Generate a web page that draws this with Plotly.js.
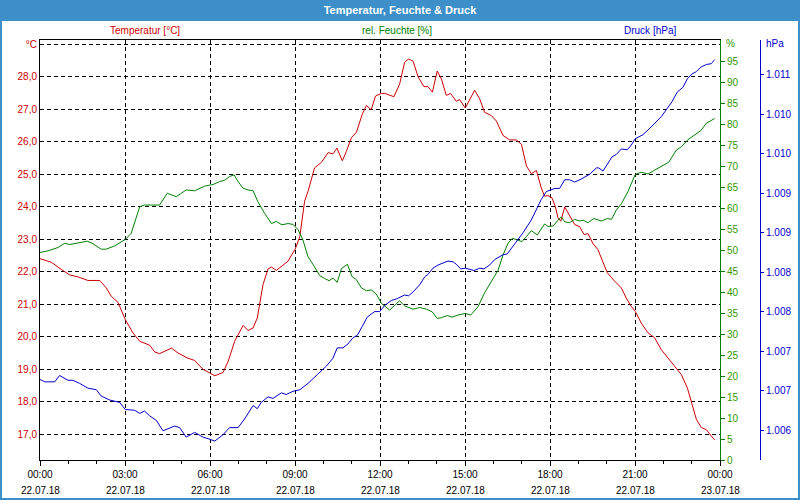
<!DOCTYPE html>
<html>
<head>
<meta charset="utf-8">
<script src="https://cdn.plot.ly/plotly-3.0.1.min.js"></script>
<style>
html,body{margin:0;padding:0;background:#fff;}
#chart{width:800px;height:500px;}
</style>
</head>
<body>
<div id="chart"></div>
<script>
// ---- data (hours since 22.07.18 00:00) ----
const tempHours = [0,0.4,0.75,1.05,1.34,1.69,2.11,2.34,2.52,2.75,3.01,3.28,3.52,3.87,4.05,4.22,4.64,4.87,5.22,5.46,5.75,6.05,6.17,6.46,6.64,6.87,7.05,7.17,7.34,7.52,7.67,7.75,7.87,8.05,8.17,8.34,8.58,8.75,9.01,9.17,9.34,9.46,9.69,9.93,10.17,10.34,10.48,10.67,10.81,10.99,11.17,11.37,11.52,11.69,11.84,12.05,12.17,12.49,12.69,12.87,13.01,13.17,13.34,13.55,13.69,13.85,14.02,14.17,14.34,14.49,14.69,14.81,15.01,15.17,15.34,15.52,15.69,15.93,16.11,16.34,16.58,16.81,16.99,17.17,17.34,17.52,17.69,17.81,17.93,18.07,18.19,18.28,18.38,18.52,18.69,18.87,19.05,19.2,19.34,19.52,19.69,19.87,20.02,20.28,20.52,20.69,20.87,21.01,21.22,21.46,21.69,21.93,22.17,22.4,22.64,22.85,23.01,23.17,23.34,23.52,23.69,23.81];
const tempValues = [22.40,22.29,22.07,21.90,21.84,21.73,21.73,21.50,21.24,21.06,20.53,20.12,19.86,19.74,19.53,19.48,19.65,19.50,19.34,19.27,19.00,18.85,18.80,18.90,19.24,19.86,20.17,20.35,20.19,20.27,20.58,21.03,21.60,22.09,22.14,22.04,22.22,22.32,22.70,23.08,24.17,24.47,25.19,25.36,25.66,25.62,25.80,25.41,25.69,26.12,26.29,26.83,27.11,26.98,27.40,27.48,27.48,27.38,27.76,28.44,28.54,28.47,28.00,27.69,27.69,27.52,28.17,27.92,27.42,27.48,27.24,27.29,27.03,27.29,27.58,27.31,26.90,26.80,26.63,26.19,26.05,26.05,25.92,25.25,25.01,25.11,24.58,24.32,24.34,24.27,24.00,23.66,23.55,23.99,23.71,23.45,23.38,23.14,23.17,22.86,22.68,22.32,21.97,21.71,21.50,21.19,20.93,20.78,20.42,20.12,19.97,19.60,19.34,19.08,18.83,18.42,17.97,17.45,17.21,17.14,16.95,16.83];

const humHours = [0,0.28,0.64,0.87,1.05,1.34,1.67,1.87,2.16,2.34,2.64,3.01,3.22,3.52,3.69,3.93,4.22,4.49,4.81,5.16,5.46,5.81,6.11,6.34,6.52,6.69,6.85,6.99,7.17,7.34,7.52,7.69,7.93,8.17,8.34,8.54,8.75,8.93,9.11,9.28,9.46,9.69,9.87,10.05,10.2,10.34,10.49,10.64,10.85,11.01,11.17,11.34,11.52,11.69,11.87,12.05,12.34,12.69,12.87,13.17,13.40,13.64,13.84,14.02,14.17,14.38,14.54,14.75,15.01,15.2,15.46,15.69,15.93,16.17,16.34,16.52,16.67,16.85,17.01,17.17,17.34,17.55,17.81,17.93,18.11,18.28,18.40,18.52,18.69,18.87,19.05,19.17,19.34,19.55,19.81,20.02,20.17,20.34,20.52,20.75,21.01,21.22,21.46,21.69,21.99,22.19,22.46,22.64,22.87,23.11,23.32,23.52,23.69,23.81];
const humValues = [49.4,49.8,50.6,51.6,51.3,51.6,52.1,51.5,50.2,50.2,51.0,52.5,54.0,60.3,60.7,60.7,60.7,63.5,62.7,64.3,64.1,65.2,65.6,66.3,66.6,67.5,67.9,66.3,64.7,64.3,64.1,61.5,58.7,56.3,56.8,56.0,56.3,56.1,54.8,52.4,48.4,46.0,43.9,43.2,42.7,43.3,42.3,45.6,46.6,43.7,42.9,41.0,40.3,40.5,39.5,37.3,35.7,37.9,36.7,35.9,36.3,35.9,35.3,33.7,33.9,34.4,34.0,34.5,34.9,34.5,36.5,39.8,42.5,45.2,48.8,51.6,52.8,52.4,52.0,53.2,54.6,53.6,56.2,55.6,55.7,57.1,57.9,56.7,56.5,57.3,56.9,57.1,56.5,57.5,56.9,57.5,57.3,59.5,61.0,63.9,68.0,68.5,68.1,69.0,70.2,70.9,73.8,74.6,76.3,77.4,78.4,80.2,80.8,81.3];

const presHours = [0,0.17,0.52,0.69,0.99,1.16,1.40,1.69,1.99,2.16,2.46,2.81,3.01,3.34,3.52,3.69,3.87,4.11,4.34,4.75,4.93,5.16,5.46,5.75,5.93,6.17,6.46,6.69,6.99,7.22,7.52,7.67,7.81,8.05,8.22,8.52,8.69,8.93,9.17,9.46,9.81,10.11,10.34,10.49,10.69,10.87,11.05,11.2,11.37,11.55,11.81,11.99,12.17,12.40,12.58,12.87,13.01,13.17,13.40,13.58,13.69,13.87,14.05,14.22,14.40,14.58,14.69,14.85,15.01,15.32,15.52,15.67,15.87,16.05,16.34,16.49,16.64,16.87,17.05,17.34,17.52,17.69,17.87,18.17,18.34,18.52,18.69,18.87,19.11,19.40,19.64,19.72,19.87,20.02,20.19,20.34,20.52,20.73,20.87,21.01,21.28,21.46,21.69,21.93,22.11,22.31,22.49,22.69,22.85,23.01,23.17,23.34,23.52,23.69,23.81];
const presValues = [1006.89,1006.86,1006.86,1006.94,1006.88,1006.88,1006.84,1006.78,1006.76,1006.68,1006.63,1006.60,1006.51,1006.50,1006.46,1006.49,1006.43,1006.37,1006.24,1006.30,1006.28,1006.16,1006.22,1006.16,1006.14,1006.11,1006.19,1006.28,1006.28,1006.39,1006.56,1006.52,1006.60,1006.67,1006.65,1006.72,1006.70,1006.74,1006.76,1006.84,1006.96,1007.06,1007.16,1007.29,1007.29,1007.34,1007.42,1007.45,1007.56,1007.68,1007.75,1007.75,1007.83,1007.89,1007.91,1007.96,1007.95,1008.00,1008.09,1008.19,1008.22,1008.30,1008.34,1008.36,1008.39,1008.38,1008.35,1008.29,1008.30,1008.27,1008.30,1008.29,1008.34,1008.41,1008.47,1008.48,1008.55,1008.66,1008.75,1008.91,1009.04,1009.17,1009.27,1009.31,1009.31,1009.42,1009.42,1009.39,1009.43,1009.49,1009.57,1009.57,1009.53,1009.61,1009.71,1009.74,1009.81,1009.80,1009.86,1009.94,1009.99,1010.05,1010.14,1010.22,1010.31,1010.41,1010.53,1010.59,1010.70,1010.76,1010.79,1010.85,1010.88,1010.89,1010.94];

// ---- ticks / labels ----
const timeTickVals = [0,3,6,9,12,15,18,21,24];
const timeTickText = ['00:00','03:00','06:00','09:00','12:00','15:00','18:00','21:00','00:00'];
const dateTickText = ['22.07.18','22.07.18','22.07.18','22.07.18','22.07.18','22.07.18','22.07.18','22.07.18','23.07.18'];
const tempTickVals = [17,18,19,20,21,22,23,24,25,26,27,28,29];
const tempTickText = ['17,0','18,0','19,0','20,0','21,0','22,0','23,0','24,0','25,0','26,0','27,0','28,0','°C'];
const humTickVals = [0,5,10,15,20,25,30,35,40,45,50,55,60,65,70,75,80,85,90,95];
const presTickVals = [1010.75,1010.25,1009.75,1009.25,1008.75,1008.25,1007.75,1007.25,1006.75,1006.25];
const presTickText = ['1.011','1.010','1.010','1.009','1.009','1.008','1.008','1.007','1.007','1.006'];
const seriesNames = ['Temperatur [°C]','rel. Feuchte [%]','Druck [hPa]'];

const W = 800, H = 500, ML = 40, MR = 40, MT = 40, MB = 40;
const PW = W - ML - MR, PH = H - MT - MB;
const px = x => (x - ML) / PW;          // pixel -> paper x
const py = y => (H - MB - y) / PH;      // pixel -> paper y

const FONT = 'Liberation Sans, Arial, sans-serif';
const RED = '#cc0000', GREEN = '#008000', GREENTXT = '#339900', BLUE = '#0000cc', BAR = '#3c8fc8';

const traces = [
  {x: tempHours, y: tempValues, type: 'scatter', mode: 'lines', line: {color: RED, width: 1}, yaxis: 'y', name: seriesNames[0]},
  {x: humHours, y: humValues, type: 'scatter', mode: 'lines', line: {color: GREEN, width: 1}, yaxis: 'y2', name: seriesNames[1]},
  {x: presHours, y: presValues, type: 'scatter', mode: 'lines', line: {color: BLUE, width: 1}, yaxis: 'y3', name: seriesNames[2]}
];

const annotations = [];
timeTickVals.forEach((v, i) => {
  annotations.push({x: v, xref: 'x', y: py(490), yref: 'paper', text: dateTickText[i], showarrow: false,
    xanchor: 'center', yanchor: 'middle', font: {family: FONT, size: 10, color: '#000000'}});
});
annotations.push({x: px(145), xref: 'paper', y: py(30), yref: 'paper', text: seriesNames[0], showarrow: false, xanchor: 'center', yanchor: 'middle', font: {family: FONT, size: 10, color: RED}});
annotations.push({x: px(397), xref: 'paper', y: py(30), yref: 'paper', text: seriesNames[1], showarrow: false, xanchor: 'center', yanchor: 'middle', font: {family: FONT, size: 10, color: GREEN}});
annotations.push({x: px(650), xref: 'paper', y: py(30), yref: 'paper', text: seriesNames[2], showarrow: false, xanchor: 'center', yanchor: 'middle', font: {family: FONT, size: 10, color: BLUE}});
annotations.push({x: px(724), xref: 'paper', y: py(44), yref: 'paper', text: '%', showarrow: false, xanchor: 'left', yanchor: 'middle', font: {family: FONT, size: 10, color: GREENTXT}});
annotations.push({x: px(764), xref: 'paper', y: py(44), yref: 'paper', text: 'hPa', showarrow: false, xanchor: 'left', yanchor: 'middle', font: {family: FONT, size: 10, color: BLUE}});

const layout = {
  width: W, height: H,
  margin: {l: ML, r: MR, t: MT, b: MB, pad: 0},
  paper_bgcolor: '#ffffff', plot_bgcolor: '#ffffff',
  showlegend: false,
  title: {text: '<b>Temperatur, Feuchte & Druck</b>', font: {family: FONT, size: 11, color: '#ffffff'},
    x: 0.5, xref: 'container', xanchor: 'center', y: 1 - 10/H, yref: 'container', yanchor: 'middle'},
  xaxis: {
    domain: [0, (720 - ML) / PW], range: [0, 24],
    tickmode: 'array', tickvals: timeTickVals, ticktext: timeTickText,
    ticks: 'outside', ticklen: 5, tickcolor: '#000', tickwidth: 1,
    minor: {dtick: 1, tick0: 0, ticks: 'outside', ticklen: 3, tickcolor: '#000', showgrid: false},
    showgrid: true, gridcolor: '#000', gridwidth: 1, griddash: '4px,3px',
    showline: true, linecolor: '#000', linewidth: 1, mirror: true,
    zeroline: false, fixedrange: true,
    tickfont: {family: FONT, size: 10, color: '#000'}
  },
  yaxis: {
    range: [16.21, 29.123],
    tickmode: 'array', tickvals: tempTickVals, ticktext: tempTickText,
    ticks: '', showgrid: true, gridcolor: '#000', gridwidth: 1, griddash: '4px,3px',
    showline: true, linecolor: '#000', linewidth: 1, zeroline: false,
    tickfont: {family: FONT, size: 10, color: RED}
  },
  yaxis2: {
    overlaying: 'y', side: 'right', anchor: 'x', range: [0, 100],
    tickmode: 'array', tickvals: humTickVals,
    ticks: 'outside', ticklen: 4, tickcolor: GREEN,
    showgrid: false, zeroline: false, showline: true, linecolor: GREEN, linewidth: 1,
    tickfont: {family: FONT, size: 10, color: GREENTXT}
  },
  yaxis3: {
    overlaying: 'y', side: 'right', anchor: 'free', position: 1, range: [1005.87, 1011.19],
    tickmode: 'array', tickvals: presTickVals, ticktext: presTickText,
    ticks: 'outside', ticklen: 3, tickcolor: BLUE,
    showgrid: false, zeroline: false, showline: true, linecolor: BLUE, linewidth: 1,
    tickfont: {family: FONT, size: 10, color: BLUE}
  },
  shapes: [
    {type: 'rect', xref: 'paper', yref: 'paper', x0: px(0), x1: px(800), y0: py(20), y1: py(0),
      fillcolor: BAR, line: {width: 0}, layer: 'below'},
    {type: 'rect', xref: 'paper', yref: 'paper', x0: px(1), x1: px(799), y0: py(499), y1: py(20),
      fillcolor: 'rgba(0,0,0,0)', line: {width: 2, color: BAR}, layer: 'below'}
  ],
  annotations: annotations
};

Plotly.newPlot('chart', traces, layout, {staticPlot: true, displayModeBar: false});
</script>
</body>
</html>
